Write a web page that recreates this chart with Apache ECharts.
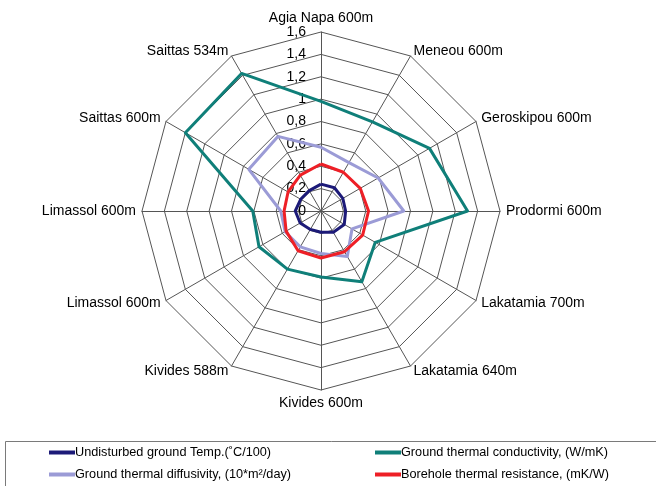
<!DOCTYPE html>
<html>
<head>
<meta charset="utf-8">
<script src="https://cdn.jsdelivr.net/npm/echarts@6/dist/echarts.min.js"></script>
<style>
	html, body { margin: 0; padding: 0; background: #fff; }
	#chart { width: 656px; height: 486px; }
</style>
</head>
<body>
<div id="chart"></div>
<script>
	// sites, clockwise from the top
	var sites = [ 'Agia Napa 600m', 'Meneou 600m', 'Geroskipou 600m', 'Prodormi 600m',
		'Lakatamia 700m', 'Lakatamia 640m', 'Kivides 600m', 'Kivides 588m',
		'Limassol 600m', 'Limassol 600m', 'Saittas 600m', 'Saittas 534m' ];

	var groundTemp = [ 0.24, 0.24, 0.225, 0.22, 0.24, 0.22, 0.19, 0.19, 0.215, 0.23, 0.21, 0.21 ];
	var conductivity = [ 0.98, 0.92, 1.12, 1.31, 0.56, 0.73, 0.59, 0.6, 0.64, 0.61, 1.4, 1.42 ];
	var diffusivity = [ 0.57, 0.5, 0.59, 0.74, 0.32, 0.47, 0.38, 0.37, 0.37, 0.36, 0.745, 0.77 ];
	var resistance = [ 0.42, 0.40, 0.405, 0.425, 0.43, 0.42, 0.42, 0.41, 0.36, 0.33, 0.34, 0.37 ];

	var seriesNames = [ 'Undisturbed ground Temp.(˚C/100)', 'Ground thermal conductivity, (W/mK)',
		'Ground thermal diffusivity, (10*m²/day)', 'Borehole thermal resistance, (mK/W)' ];
	var colors = [ '#1c1a78', '#0f7f79', '#9b9bd6', '#ee1f26' ];

	// echarts radar runs counter-clockwise, so keep the first axis and reverse the rest
	function cw(arr) {
		return [ arr[0] ].concat(arr.slice(1).reverse());
	}

	var chart = echarts.init(document.getElementById('chart'));
	var font = 'Liberation Sans';

	var indicator = cw(sites).map(function(s, i) {
		var ind = { name : s, min : 0, max : 1.6 };
		if (i === 0) {
			// only the top axis carries the scale
			ind.axisLabel = {
				show : true,
				showMinLabel : true,
				color : '#000',
				fontSize : 14,
				fontFamily : font,
				margin : 15,
				formatter : function(v) {
					return String(v).replace('.', ',');
				}
			};
		}
		return ind;
	});

	function legendColumn(left, names) {
		return {
			left : left,
			top : 445,
			height : 80,
			padding : 0,
			orient : 'vertical',
			itemWidth : 26,
			itemHeight : 4,
			itemGap : 7,
			icon : 'rect',
			textStyle : { fontSize : 12.7, lineHeight : 15, fontFamily : font, color : '#000', padding : [ 0, 0, 0, -5 ] },
			data : names
		};
	}

	var option = {
		animation : false,
		color : colors,
		legend : [
			legendColumn(49, [ seriesNames[0], seriesNames[2] ]),
			legendColumn(375, [ seriesNames[1], seriesNames[3] ])
		],
		graphic : [ {
			type : 'rect',
			shape : { x : 5.5, y : 441.5, width : 660, height : 60 },
			style : { fill : 'none', stroke : '#7a7a7a', lineWidth : 1 },
			z : -1
		} ],
		radar : {
			center : [ 321, 211 ],
			radius : 179,
			startAngle : 90,
			splitNumber : 8,
			shape : 'polygon',
			nameGap : 6,
			axisName : { color : '#000', fontSize : 14, fontFamily : font },
			axisLine : { lineStyle : { color : '#555', width : 1 } },
			splitLine : { lineStyle : { color : '#555', width : 1 } },
			splitArea : { show : false },
			axisLabel : { show : false },
			indicator : indicator
		},
		series : [ {
			type : 'radar',
			symbol : 'none',
			lineStyle : { width : 3 },
			data : [
				{ name : seriesNames[0], value : cw(groundTemp), lineStyle : { color : colors[0], width : 3 }, itemStyle : { color : colors[0] } },
				{ name : seriesNames[1], value : cw(conductivity), lineStyle : { color : colors[1], width : 3 }, itemStyle : { color : colors[1] } },
				{ name : seriesNames[2], value : cw(diffusivity), lineStyle : { color : colors[2], width : 3 }, itemStyle : { color : colors[2] } },
				{ name : seriesNames[3], value : cw(resistance), lineStyle : { color : colors[3], width : 3 }, itemStyle : { color : colors[3] } }
			]
		} ]
	};
	chart.setOption(option);
</script>
</body>
</html>
